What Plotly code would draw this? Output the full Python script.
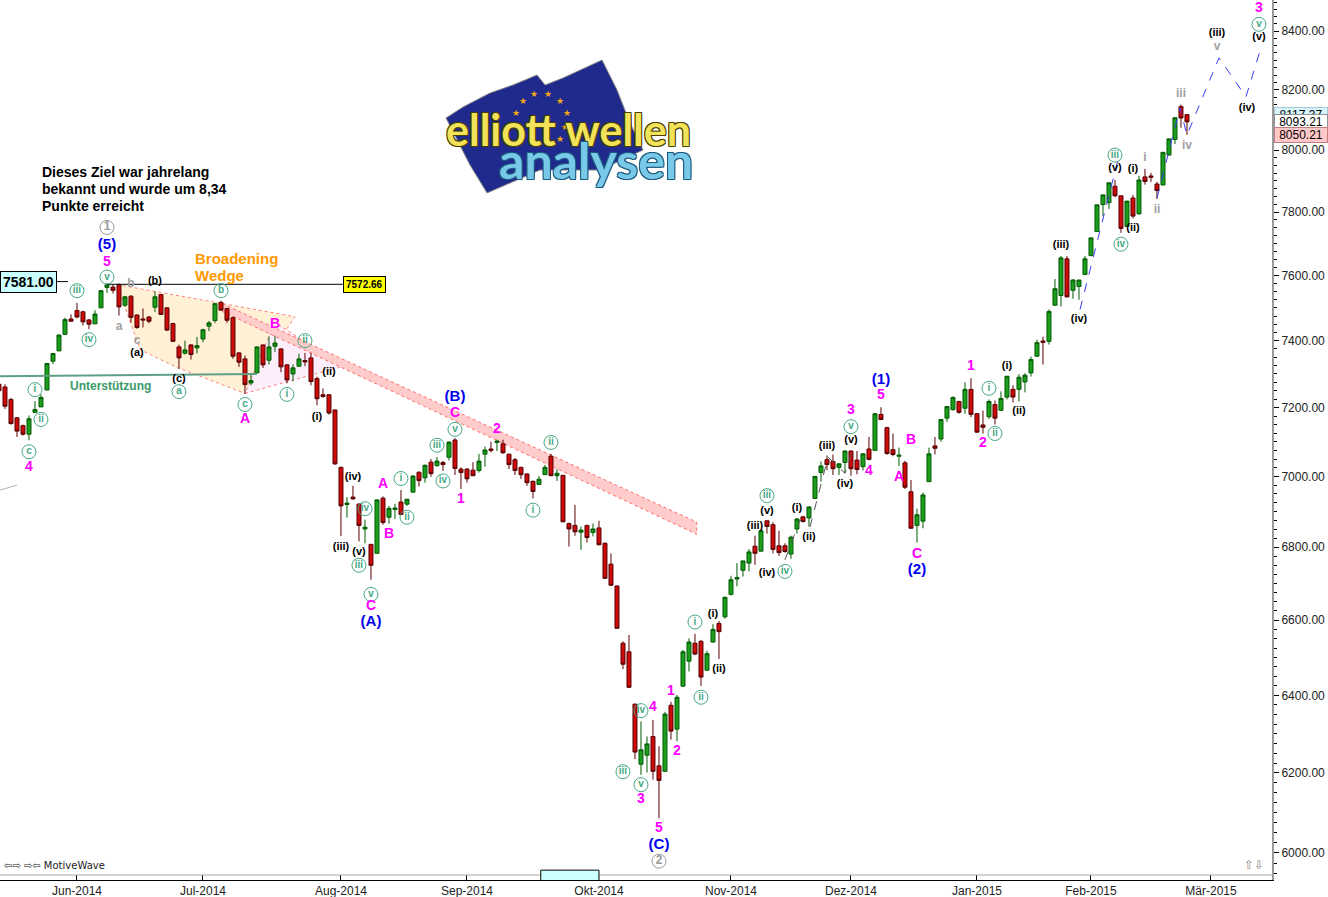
"""Elliott wave count on a daily candlestick chart (Jun 2014 - Mar 2015)."""
import math
import plotly.graph_objects as go

# daily bars, x is the running bar number
bars = list(range(-1, 198))
opens = [7269, 7261, 7224, 7170, 7147, 7122, 7186, 7202, 7252, 7338,
         7369, 7419, 7466, 7492, 7488, 7463, 7451, 7500, 7563, 7564,
         7571, 7508, 7536, 7478, 7466, 7472, 7502, 7541, 7500, 7452,
         7381, 7362, 7387, 7378, 7405, 7444, 7461, 7517, 7498, 7470,
         7363, 7345, 7273, 7303, 7387, 7341, 7383, 7375, 7327, 7300,
         7323, 7340, 7348, 7286, 7238, 7238, 7193, 7026, 6920, 6941,
         6921, 6851, 6808, 6783, 6938, 6884, 6906, 6927, 6921, 6955,
         7012, 6996, 7041, 7031, 7040, 7055, 7105, 7021, 7021, 7018,
         7017, 7064, 7079, 7098, 7094, 7064, 7048, 7026, 7007, 6986,
         6977, 7005, 7058, 7002, 7003, 6866, 6861, 6842, 6861, 6841,
         6854, 6811, 6753, 6693, 6538, 6515, 6377, 6222, 6245, 6293,
         6218, 6204, 6374, 6312, 6424, 6490, 6538, 6543, 6466, 6541,
         6591, 6609, 6670, 6712, 6736, 6756, 6803, 6789, 6874, 6863,
         6804, 6804, 6781, 6851, 6885, 6882, 6937, 7011, 7048, 7043,
         7026, 7040, 7073, 7047, 7028, 7079, 7075, 7180, 7141, 7077,
         7058, 7039, 6956, 6861, 6873, 6985, 7088, 7108, 7169, 7194,
         7218, 7198, 7254, 7182, 7149, 7173, 7209, 7192, 7231, 7254,
         7254, 7276, 7303, 7353, 7399, 7398, 7508, 7538, 7652, 7554,
         7566, 7603, 7662, 7738, 7824, 7830, 7883, 7852, 7754, 7845,
         7794, 7913, 7916, 7890, 7887, 7984, 8035, 8144, 8117.37]
highs = [7275, 7269, 7229, 7172, 7150, 7177, 7219, 7239, 7333, 7363,
         7418, 7470, 7480, 7515, 7491, 7466, 7493, 7554, 7576, 7571,
         7576, 7537, 7538, 7480, 7498, 7475, 7551, 7543, 7502, 7454,
         7388, 7400, 7389, 7411, 7436, 7460, 7515, 7522, 7500, 7474,
         7365, 7355, 7299, 7383, 7388, 7413, 7415, 7377, 7329, 7329,
         7361, 7363, 7363, 7292, 7257, 7240, 7194, 7028, 6941, 6973,
         6924, 6877, 6809, 6935, 6943, 6916, 6922, 6961, 6935, 7004,
         7014, 7034, 7050, 7056, 7045, 7101, 7111, 7026, 7024, 7041,
         7065, 7086, 7100, 7106, 7106, 7065, 7053, 7028, 7009, 6988,
         7001, 7033, 7065, 7021, 7004, 6869, 6919, 6858, 6863, 6866,
         6874, 6813, 6783, 6694, 6543, 6560, 6378, 6332, 6293, 6336,
         6268, 6357, 6383, 6401, 6520, 6551, 6563, 6547, 6518, 6589,
         6598, 6664, 6721, 6756, 6762, 6795, 6832, 6846, 6874, 6870,
         6846, 6811, 6832, 6882, 6888, 6915, 7001, 7043, 7060, 7063,
         7038, 7075, 7075, 7073, 7067, 7114, 7184, 7201, 7144, 7124,
         7083, 7045, 6990, 6908, 6954, 7083, 7114, 7165, 7203, 7233,
         7220, 7275, 7287, 7184, 7191, 7224, 7221, 7248, 7293, 7266,
         7299, 7302, 7352, 7403, 7412, 7495, 7589, 7661, 7661, 7589,
         7586, 7661, 7718, 7823, 7855, 7894, 7903, 7852, 7835, 7855,
         7916, 7939, 7926, 7897, 7993, 8039, 8107, 8151, 8117.37]
lows = [7245, 7196, 7150, 7114, 7118, 7104, 7186, 7202, 7252, 7329,
        7369, 7419, 7459, 7468, 7446, 7435, 7451, 7500, 7546, 7544,
        7476, 7503, 7455, 7436, 7440, 7453, 7487, 7478, 7429, 7396,
        7315, 7358, 7343, 7361, 7395, 7429, 7454, 7493, 7454, 7345,
        7321, 7241, 7266, 7303, 7318, 7328, 7365, 7305, 7272, 7278,
        7321, 7323, 7266, 7207, 7229, 7179, 7033, 6831, 6883, 6933,
        6816, 6811, 6710, 6783, 6863, 6866, 6879, 6890, 6916, 6955,
        6971, 6982, 6999, 7028, 7016, 7046, 7004, 6964, 6982, 7001,
        7011, 7028, 7069, 7073, 7065, 7021, 7004, 6993, 6973, 6937,
        6977, 7004, 7001, 6987, 6871, 6802, 6832, 6793, 6813, 6830,
        6805, 6712, 6694, 6578, 6469, 6420, 6235, 6195, 6201, 6183,
        6086, 6204, 6285, 6281, 6424, 6463, 6506, 6425, 6466, 6540,
        6496, 6604, 6667, 6692, 6719, 6733, 6751, 6789, 6838, 6783,
        6776, 6785, 6768, 6838, 6869, 6858, 6937, 6985, 7018, 7004,
        7004, 7009, 7002, 7006, 7017, 7046, 7075, 7163, 7062, 7058,
        7030, 6964, 6852, 6813, 6853, 6985, 7063, 7100, 7158, 7191,
        7182, 7182, 7172, 7127, 7124, 7167, 7150, 7191, 7224, 7215,
        7218, 7245, 7292, 7352, 7328, 7388, 7507, 7504, 7531, 7528,
        7525, 7602, 7661, 7738, 7787, 7810, 7848, 7734, 7754, 7780,
        7793, 7888, 7897, 7842, 7886, 7983, 8020, 8074, 8050.21]
closes = [7250, 7204, 7153, 7131, 7122, 7167, 7194, 7230, 7331, 7361,
          7417, 7464, 7459, 7472, 7457, 7450, 7481, 7553, 7571, 7554,
          7503, 7534, 7471, 7440, 7463, 7459, 7534, 7480, 7432, 7398,
          7348, 7372, 7358, 7385, 7433, 7454, 7513, 7493, 7462, 7353,
          7335, 7268, 7280, 7381, 7327, 7381, 7393, 7321, 7282, 7318,
          7345, 7336, 7277, 7226, 7233, 7184, 7036, 6916, 6924, 6936,
          6861, 6856, 6750, 6933, 6869, 6909, 6910, 6892, 6935, 7001,
          6988, 7032, 7008, 7044, 7034, 7099, 7023, 7011, 6993, 7002,
          7044, 7076, 7075, 7102, 7068, 7034, 7017, 7005, 6982, 6957,
          6992, 7026, 7002, 7009, 6871, 6851, 6843, 6848, 6827, 6851,
          6807, 6714, 6695, 6578, 6482, 6421, 6253, 6259, 6274, 6204,
          6181, 6351, 6307, 6395, 6515, 6541, 6509, 6448, 6510, 6575,
          6569, 6662, 6710, 6716, 6762, 6787, 6783, 6846, 6858, 6794,
          6785, 6788, 6828, 6879, 6872, 6913, 7000, 7030, 7034, 7022,
          7036, 7073, 7022, 7020, 7065, 7049, 7182, 7165, 7066, 7063,
          7061, 6969, 6853, 6891, 6947, 7065, 7081, 7165, 7203, 7230,
          7186, 7254, 7180, 7128, 7142, 7218, 7169, 7227, 7293, 7231,
          7290, 7296, 7343, 7394, 7395, 7489, 7559, 7655, 7534, 7586,
          7586, 7652, 7718, 7823, 7855, 7894, 7852, 7748, 7835, 7787,
          7903, 7898, 7912, 7869, 7993, 8037, 8107, 8106, 8093.21]

month_pos = [12, 33, 56, 77, 99, 121, 141, 162, 181, 201]
month_txt = ["Jun-2014", "Jul-2014", "Aug-2014", "Sep-2014", "Okt-2014",
             "Nov-2014", "Dez-2014", "Jan-2015", "Feb-2015", "Mär-2015"]
price_ticks = list(range(6000, 8401, 200))
price_minor = list(range(5950, 8501, 25))

# wave labels
green_txt = ["c", "i", "ii", "iii", "iv", "v", "a", "b", "c", "i", "ii", "iv", "iii", "v",
             "i", "ii", "iii", "iv", "v", "ii", "i", "iv", "iii", "v", "i", "ii",
             "iii", "iv", "v", "i", "ii", "iii", "iv", "v"]
green_x = [4, 5, 6, 12, 14, 17, 29, 36, 40, 47, 50, 60, 59, 61,
           66, 67, 72, 73, 75, 91, 88, 106, 103, 106, 115, 116,
           127, 130, 141, 164, 165, 185, 186, 209]
green_y = [7071, 7253, 7165, 7553, 7403, 7595, 7247, 7553, 7209, 7239, 7400, 6908, 6750, 6670,
           6994, 6884, 7090, 6987, 7136, 7098, 6904, 6360, 6203, 6170, 6595, 6395,
           6945, 6733, 7144, 7257, 7124, 7984, 7698, 8423]

grey_circle_txt = ["1", "2"]
grey_circle_x = [17, 109]
grey_circle_y = [7751, 5980]

magenta_txt = ["5", "4", "A", "B", "1", "C", "2", "A", "B", "C", "4", "1", "2", "3", "5",
               "3", "5", "4", "A", "B", "C", "1", "2", "3"]
magenta_x = [17, 4, 40, 45, 76, 75, 82, 63, 64, 61, 108, 111, 112, 106, 109,
             141, 146, 144, 149, 151, 152, 161, 163, 209]
magenta_y = [7641, 7025, 7165, 7450, 6935, 7182, 7136, 6978, 6836, 6636, 6367, 6410, 6254, 6134, 6061,
             7192, 7237, 7015, 6998, 7105, 6780, 7321, 7095, 8478]

blue_txt = ["(5)", "(B)", "(A)", "(C)", "(1)", "(2)"]
blue_x = [17, 75, 61, 109, 146, 152]
blue_y = [7696, 7230, 6595, 6020, 7282, 6735]

black_txt = ["(b)", "(a)", "(c)", "(i)", "(ii)", "(iii)", "(iv)", "(v)", "(i)", "(ii)",
             "(iii)", "(v)", "(iv)", "(i)", "(ii)", "(iii)", "(v)", "(iv)", "(i)", "(ii)",
             "(iii)", "(iv)", "(v)", "(i)", "(ii)", "(iii)", "(iv)", "(v)"]
black_x = [25, 22, 29, 52, 54, 56, 58, 59, 118, 119,
           125, 127, 127, 132, 134, 137, 141, 140, 167, 169,
           176, 179, 185, 188, 188, 202, 207, 209]
black_y = [7582, 7361, 7285, 7173, 7305, 6800, 6998, 6786, 6616, 6470,
           6860, 6900, 6727, 6908, 6828, 7088, 7104, 6978, 7322, 7189,
           7696, 7464, 7940, 7938, 7750, 8393, 8140, 8377]

grey_txt = ["a", "b", "c", "i", "ii", "iii", "iv", "v"]
grey_x = [19, 21, 22, 190, 192, 196, 197, 202]
grey_y = [7440, 7573, 7400, 7974, 7806, 8187, 8013, 8345]

# drawn objects
wedge_x = [18.67, 48.3, 40, 28.7, 22.5]
wedge_y = [7572, 7473, 7242, 7319, 7373]
pink_x = [40, 56.2, 45]
pink_y = [7242, 7322, 7456]
channel_x = [36.2, 115.3, 115.3, 36.2]
channel_y = [7513, 6870, 6836, 7489]
support_x = [-1, 42]
support_y = [7293, 7300]
stub_x = [-1, 2]
stub_y = [6960, 6975]
target_x = [17, 56.3]
target_y = [7572.66, 7572.66]
high_x = [8.2, 10.5]
high_y = [7581, 7581]
forecast1_x = [179.17, 185.5]
forecast1_y = [7495, 7968]
forecast2_x = [192, 195.83, 197, 202.33, 206.83, 209.33]
forecast2_y = [7845, 8140, 8050, 8308, 8177, 8342]
count_x = [130, 132.5, 134.17, 137.17, 140, 141.17]
count_y = [6765, 6876, 6857, 7055, 7009, 7070]

plot_w = 1272
plot_h = 880
FONT = "Liberation Sans"


def px(x):
    return x / plot_w


def py(y):
    return 1 - y / plot_h


fig = go.Figure()


def area(xs, ys, fill, color):
    # filled zones go under the candles, so they are shapes and not traces
    path = "M" + " L".join(f"{x},{y}" for x, y in zip(xs, ys)) + " Z"
    return dict(type="path", path=path, xref="x", yref="y", layer="below", fillcolor=fill,
                line=dict(color=color, width=1, dash="dot"))


def line(xs, ys, color, width=1, dash="solid"):
    fig.add_trace(go.Scatter(x=xs, y=ys, mode="lines",
                             line=dict(color=color, width=width, dash=dash), hoverinfo="skip"))


def labels(xs, ys, txt, color, size):
    fig.add_trace(go.Scatter(x=xs, y=ys, mode="text", text=txt, textposition="middle center",
                             textfont=dict(family=FONT, size=size, color=color, weight="bold"),
                             hoverinfo="skip"))


def circled(xs, ys, txt, color, size):
    fig.add_trace(go.Scatter(x=xs, y=ys, mode="markers+text", text=txt, textposition="middle center",
                             marker=dict(symbol="circle-open", size=14, color=color,
                                         line=dict(color=color, width=1)),
                             textfont=dict(family=FONT, size=size, color=color, weight="bold"),
                             hoverinfo="skip"))


line(stub_x, stub_y, "#b0b0b0")
line(target_x, target_y, "#000000")
line(high_x, high_y, "#000000")

fig.add_trace(go.Candlestick(
    x=bars, open=opens, high=highs, low=lows, close=closes,
    increasing=dict(fillcolor="#1c9c1c", line=dict(color="#005c00", width=1)),
    decreasing=dict(fillcolor="#cc0a0a", line=dict(color="#5a0000", width=1)),
    whiskerwidth=0, hoverinfo="skip"))

line(support_x, support_y, "#5f9f86", 2)
line(forecast1_x, forecast1_y, "#3a3af0", 1, "dash")
line(forecast2_x, forecast2_y, "#3a3af0", 1, "dash")
line(count_x, count_y, "#555555", 1, "dash")

circled(green_x, green_y, green_txt, "#45a883", 10)
circled(grey_circle_x, grey_circle_y, grey_circle_txt, "#9a9a9a", 12)
labels(magenta_x, magenta_y, magenta_txt, "#ff00ff", 14)
labels(blue_x, blue_y, blue_txt, "#0000ee", 15)
labels(black_x, black_y, black_txt, "#000000", 11)
labels(grey_x, grey_y, grey_txt, "#a0a0a0", 12)

# price tags
annos = [
    dict(x=0, y=math.log10(7581), xref="paper", yref="y", xanchor="left", yanchor="middle",
         showarrow=False, bgcolor="#ccffff", bordercolor="#000000", borderwidth=1, borderpad=2,
         text="<b>7581.00</b>", font=dict(family=FONT, size=14, color="#000000")),
    dict(x=56.3, y=math.log10(7572.66), xref="x", yref="y", xanchor="left", yanchor="middle",
         showarrow=False, bgcolor="#ffff00", bordercolor="#000000", borderwidth=1, borderpad=2,
         text="<b>7572.66</b>", font=dict(family=FONT, size=10, color="#000000")),
]
for val, bg, col in [(8117.37, "#d8f4fb", "#a8c8d8"), (8093.21, "#ffffff", "#909090"),
                     (8050.21, "#ffc8c8", "#c08080")]:
    annos.append(dict(x=px(1274), y=math.log10(val), xref="paper", yref="y", xanchor="left",
                      yanchor="middle", showarrow=False, bgcolor=bg, bordercolor=col,
                      borderwidth=1, borderpad=0, width=52, text=f"{val:.2f}",
                      font=dict(family=FONT, size=12, color="#000000")))

texts = [
    ("Dieses Ziel war jahrelang", 40, 172, "left", 14, "#000000"),
    ("bekannt und wurde um 8,34", 40, 189, "left", 14, "#000000"),
    ("Punkte erreicht", 40, 206, "left", 14, "#000000"),
    ("Broadening", 193, 258, "left", 15, "#ff9900"),
    ("Wedge", 193, 275, "left", 15, "#ff9900"),
    ("Unterstützung", 110, 386, "center", 12, "#3a9a6a"),
]
for txt, x, y, anchor, size, color in texts:
    annos.append(dict(x=px(x), y=py(y), xref="paper", yref="paper", xanchor=anchor, yanchor="middle",
                      showarrow=False, text="<b>" + txt + "</b>",
                      font=dict(family=FONT, size=size, color=color)))

# bottom corners of the chart window
annos.append(dict(x=px(2), y=py(865), xref="paper", yref="paper", xanchor="left", yanchor="middle",
                  showarrow=False, text="⇦⇨ ⇨⇦ MotiveWave",
                  font=dict(family="DejaVu Sans", size=10, color="#222222")))
annos.append(dict(x=px(1242), y=py(865), xref="paper", yref="paper", xanchor="left", yanchor="middle",
                  showarrow=False, text="⇧⇩", font=dict(family="DejaVu Sans", size=12, color="#888888")))

# logo
flag = [(446, 118), (463, 107), (490, 93), (513, 85), (537, 75), (545, 85), (563, 78), (602, 60),
        (617, 90), (630, 123), (643, 150), (600, 170), (540, 170), (487, 193), (470, 165)]
flag_path = "M" + " L".join(f"{px(x):.4f},{py(y):.4f}" for x, y in flag) + " Z"
shapes = [
    area(wedge_x, wedge_y, "#fff0d6", "#ff8080"),
    area(pink_x, pink_y, "#fdeefb", "#ff8080"),
    area(channel_x, channel_y, "#ffcccc", "#ff6a6a"),
    dict(type="path", path=flag_path, xref="paper", yref="paper", layer="above",
         fillcolor="#1f2a8c", line=dict(color="#8a8a8a", width=1)),
    dict(type="line", xref="paper", yref="paper", x0=0, x1=1, y0=py(875), y1=py(875),
         line=dict(color="#a8a8a0", width=1)),
    dict(type="rect", xref="x", yref="y", x0=89.3, x1=99, y0=5958, y1=5900,
         fillcolor="#ccffff", line=dict(color="#000000", width=1)),
]
for x, y in [(534, 94), (548, 94), (523, 101), (560, 101), (516, 113), (567, 113), (565, 127),
             (560, 139), (522, 137)]:
    annos.append(dict(x=px(x), y=py(y), xref="paper", yref="paper", yanchor="middle", showarrow=False,
                      text="★", font=dict(family="DejaVu Sans", size=9, color="#f0a818")))
annos.append(dict(x=px(568), y=py(129), xref="paper", yref="paper", yanchor="middle", showarrow=False,
                  text="<b>elliott wellen</b>",
                  font=dict(family="Lato", size=43, color="#f2e35a",
                            shadow="1px 1px 0 #4a4000, -1px -1px 0 #4a4000, 1px -1px 0 #4a4000, -1px 1px 0 #4a4000")))
annos.append(dict(x=px(596), y=py(160), xref="paper", yref="paper", yanchor="middle", showarrow=False,
                  text="<b>analysen</b>",
                  font=dict(family="Lato", size=50, color="#78c8e8",
                            shadow="1px 1px 0 #1c5a80, -1px -1px 0 #1c5a80, 1px -1px 0 #1c5a80, -1px 1px 0 #1c5a80")))

fig.update_layout(
    width=1328, height=897,
    margin=dict(l=0, r=56, t=0, b=17, pad=0),
    paper_bgcolor="#ffffff", plot_bgcolor="#ffffff",
    showlegend=False, hovermode=False, boxgap=0.05,
    annotations=annos, shapes=shapes,
    font=dict(family=FONT, size=12, color="#222222"),
    xaxis=dict(range=[-0.83, 211.17], rangeslider=dict(visible=False), showgrid=False, zeroline=False,
               tickmode="array", tickvals=month_pos, ticktext=month_txt, ticks="inside", ticklen=5,
               tickcolor="#000000", showline=True, linecolor="#000000", linewidth=1,
               tickfont=dict(family=FONT, size=12, color="#222222")),
    yaxis=dict(type="log", range=[3.77335, 3.92979], side="right", showgrid=False, zeroline=False,
               tickmode="array", tickvals=price_ticks, ticktext=[f"{p:.2f}" for p in price_ticks],
               ticks="outside", ticklen=5, tickcolor="#000000", showline=True, linecolor="#999999",
               linewidth=2, tickfont=dict(family=FONT, size=12, color="#222222"),
               minor=dict(tickmode="array", tickvals=price_minor, ticks="outside", ticklen=3,
                          tickcolor="#000000")),
)

# the page must start at the window corner
fig.write_html("out.html", config=dict(displayModeBar=False),
               post_script="document.body.style.margin='0';window.dispatchEvent(new Event('resize'));")
